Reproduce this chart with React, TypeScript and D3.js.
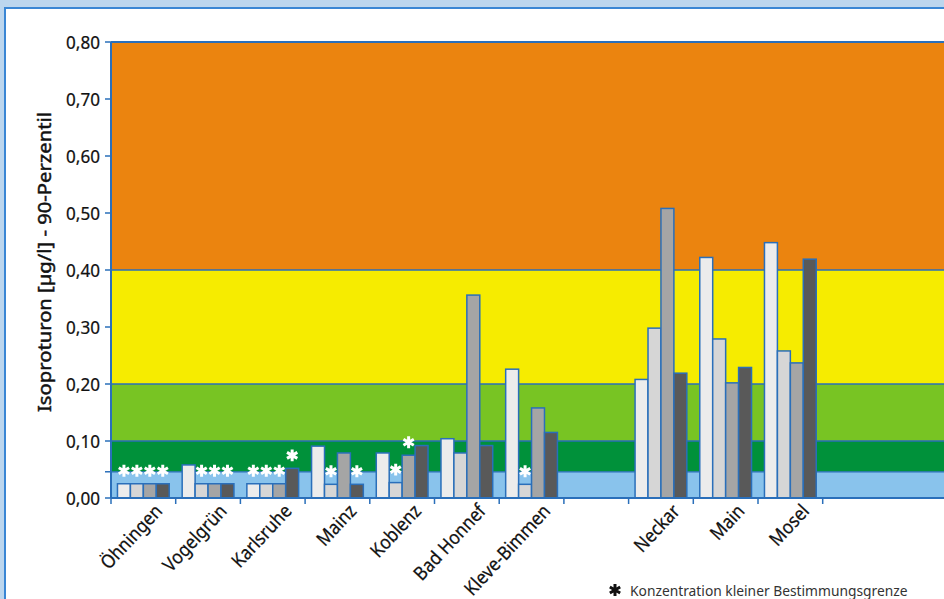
import React from "react";
import * as d3 from "d3";

const categories = ["Öhningen", "Vogelgrün", "Karlsruhe", "Mainz", "Koblenz", "Bad Honnef", "Kleve-Bimmen", " ", "Neckar", "Main", "Mosel", "  ", "   "];
const series1 = [0.025, 0.058, 0.025, 0.091, 0.079, 0.104, 0.226, null, 0.208, 0.422, 0.448];
const series2 = [0.025, 0.025, 0.025, 0.024, 0.027, 0.079, 0.024, null, 0.298, 0.279, 0.258];
const series3 = [0.025, 0.025, 0.025, 0.079, 0.075, 0.356, 0.158, null, 0.508, 0.202, 0.237];
const series4 = [0.025, 0.025, 0.052, 0.024, 0.092, 0.092, 0.115, null, 0.219, 0.229, 0.419];
// below detection limit flags (asterisk)
const star1 = [1, 0, 1, 0, 0, 0, 0, 0, 0, 0, 0];
const star2 = [1, 1, 1, 1, 1, 0, 1, 0, 0, 0, 0];
const star3 = [1, 1, 1, 0, 1, 0, 0, 0, 0, 0, 0];
const star4 = [1, 1, 1, 1, 0, 0, 0, 0, 0, 0, 0];
const seriesColors = ["#ececec", "#d6d6d6", "#a5a5a5", "#595959"];
const bandLimits = [0, 0.046, 0.1, 0.2, 0.4, 0.8];
const bandColors = ["#89c3ec", "#00913a", "#78c423", "#f6ec00", "#eb840f"];
const yTicks = [0, 0.1, 0.2, 0.3, 0.4, 0.5, 0.6, 0.7, 0.8];
const yLabel = "Isoproturon [µg/l] - 90-Perzentil";
const legendText = "Konzentration kleiner Bestimmungsgrenze";

const W = 944;
const H = 599;
const left = 111;
const top = 42;
const bottom = 498;
const blue = "#2a6fba";
const font = "'Noto Sans', 'Open Sans', sans-serif";

export default function App() {
  const x = d3.scaleBand<string>().domain(categories).range([left, left + 64.7 * categories.length]).padding(0);
  const y = d3.scaleLinear().domain([0, 0.8]).range([bottom, top]);
  const keys = ["s1", "s2", "s3", "s4"];
  const xi = d3.scaleBand<string>().domain(keys).range([0, x.bandwidth()]).paddingInner(0).paddingOuter(0.5);
  const all = [series1, series2, series3, series4];
  const stars = [star1, star2, star3, star4];
  const star = d3.symbol().type(d3.symbolAsterisk).size(100)();
  const fmt = (v: number) => v.toFixed(2).replace(".", ",");
  const plotRight = W + 2;

  const bars: React.ReactNode[] = [];
  const asts: React.ReactNode[] = [];
  all.forEach((s, si) => {
    s.forEach((v, ci) => {
      if (v == null) return;
      const bx = (x(categories[ci]) as number) + (xi(keys[si]) as number);
      bars.push(
        <rect key={`b${si}-${ci}`} x={bx} y={y(v)} width={xi.bandwidth()} height={y(0) - y(v)}
          fill={seriesColors[si]} stroke={blue} strokeWidth={1.5} />
      );
      if (stars[si][ci]) {
        asts.push(
          <path key={`a${si}-${ci}`} d={star as string}
            transform={`translate(${bx + xi.bandwidth() / 2},${y(v) - 13})`}
            stroke="#ffffff" strokeWidth={3} fill="none" />
        );
      }
    });
  });

  const tickCats = categories.slice(0, 12);

  return (
    <svg width={W} height={H} style={{ position: "absolute", left: 0, top: 0 }} fontFamily={font}>
      <rect x={0} y={0} width={W} height={H} fill="#bcd6ee" />
      <rect x={5} y={8} width={W + 10} height={H + 10} fill="#ffffff" stroke="#3a86d4" strokeWidth={2} />
      {bandColors.map((c, i) => (
        <rect key={`band${i}`} x={left} y={y(bandLimits[i + 1])} width={plotRight - left}
          height={y(bandLimits[i]) - y(bandLimits[i + 1])} fill={c} />
      ))}
      {bandLimits.slice(1).map((v, i) => (
        <line key={`bl${i}`} x1={left} x2={plotRight} y1={y(v)} y2={y(v)} stroke={blue} strokeWidth={i === 4 ? 2 : 1.3} />
      ))}
      {bars}
      {asts}
      {/* x axis */}
      <line x1={left} x2={plotRight} y1={bottom} y2={bottom} stroke={blue} strokeWidth={2} />
      {tickCats.map((c, i) => (
        <line key={`xt${i}`} x1={x(c) as number} x2={x(c) as number} y1={bottom} y2={bottom + 6} stroke={blue} strokeWidth={1.5} />
      ))}
      {categories.slice(0, 11).map((c, i) => (
        c.trim() === "" ? null :
          <text key={`xl${i}`} transform={`translate(${(x(c) as number) + x.bandwidth() / 2 + 20},${bottom + 14}) rotate(-47) scale(0.9,1)`}
            textAnchor="end" fontSize={19} fill="#111" stroke="#111" strokeWidth={0.25}>{c}</text>
      ))}
      {/* y axis */}
      <line x1={left} x2={left} y1={top} y2={bottom} stroke={blue} strokeWidth={2} />
      {[...yTicks, bandLimits[1]].map((t, i) => (
        <line key={`yt${i}`} x1={left - 6} x2={left} y1={y(t)} y2={y(t)} stroke={blue} strokeWidth={1.5} />
      ))}
      {yTicks.map((t, i) => (
        <text key={`yl${i}`} transform={`translate(${left - 11},${y(t)}) scale(0.9,1)`} dy="0.36em" textAnchor="end"
          fontSize={19} fill="#111" stroke="#111" strokeWidth={0.25}>{fmt(t)}</text>
      ))}
      <text transform={`translate(51,262) rotate(-90)`} textAnchor="middle" fontSize={18}
        textLength={300} lengthAdjust="spacingAndGlyphs"
        fill="#111" stroke="#111" strokeWidth={0.45}>{yLabel}</text>
      {/* legend */}
      <path d={star as string} transform="translate(615,590)" stroke="#111" strokeWidth={3} fill="none" />
      <text x={630} y={596} fontSize={13.8} fill="#333">{legendText}</text>
    </svg>
  );
}
